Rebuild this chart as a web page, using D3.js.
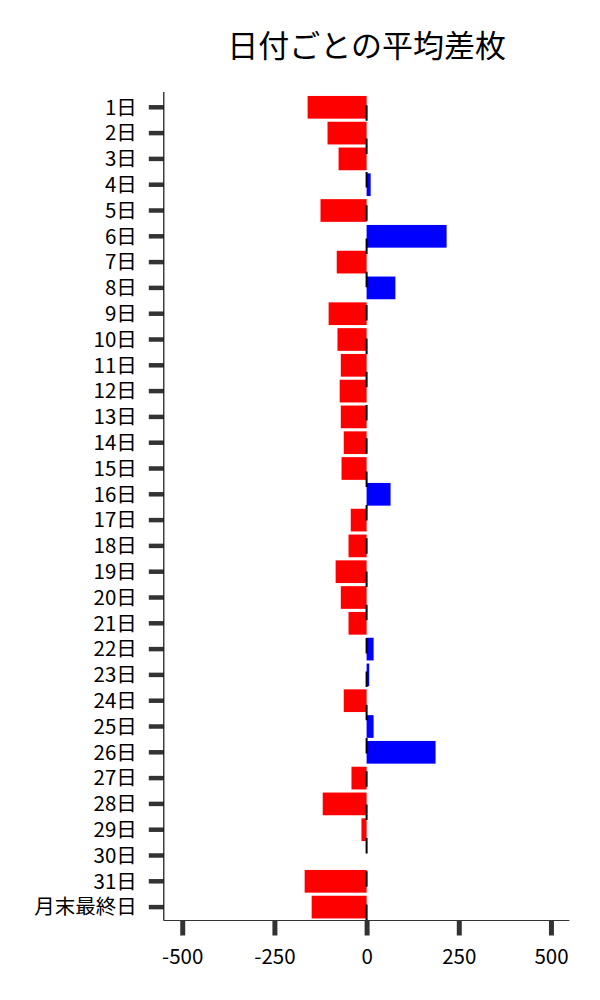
<!DOCTYPE html>
<html><head><meta charset="utf-8">
<script src="https://cdn.jsdelivr.net/npm/d3@7"></script>
<style>body{margin:0;background:#fff}svg{display:block}</style>
</head><body>
<svg id="c" width="600" height="1000"></svg>
<script>
const categories = ["1日","2日","3日","4日","5日","6日","7日","8日","9日","10日","11日","12日","13日","14日","15日","16日","17日","18日","19日","20日","21日","22日","23日","24日","25日","26日","27日","28日","29日","30日","31日","月末最終日"];
const values = [-160,-106,-76,11,-125,217,-81,78,-103,-79,-70,-73,-70,-62,-68,65,-43,-49,-84,-70,-49,19,7,-62,19,187,-41,-119,-14,0,-168,-149];
const xTicks = [-500,-250,0,250,500];
const title = "日付ごとの平均差枚";

const font = "'Noto Sans CJK JP','Noto Sans',sans-serif";
const svg = d3.select("#c");
const x = d3.scaleLinear().domain([-550,550]).range([163.8,569.4]);
const y = d3.scaleBand().domain(categories).range([94.4,920]).paddingInner(0.12).paddingOuter(0.06);

// bars
svg.append("g").selectAll("rect").data(values).join("rect")
  .attr("x",(d)=>x(Math.min(0,d)))
  .attr("width",(d)=>Math.abs(x(d)-x(0)))
  .attr("y",(d,i)=>y(categories[i]))
  .attr("height",y.bandwidth())
  .attr("fill",(d)=>d>=0?"#0000ff":"#ff0000");

// dashed zero line
svg.append("line").attr("x1",x(0)).attr("x2",x(0)).attr("y1",920).attr("y2",92)
  .attr("stroke","#000").attr("stroke-width",2).attr("stroke-dasharray","15.5 17.8");

// y axis
const yAxis = svg.append("g").attr("transform",`translate(${x.range()[0]},0)`)
  .call(d3.axisLeft(y).tickSize(15).tickPadding(12));
yAxis.select(".domain").remove();
yAxis.selectAll(".tick line").attr("stroke","#333").attr("stroke-width",4.5);
yAxis.selectAll(".tick text").attr("font-family",font).attr("font-size",20.5).attr("fill","#000").attr("dy","0.36em");
svg.append("line").attr("x1",x.range()[0]).attr("x2",x.range()[0]).attr("y1",92).attr("y2",920.5)
  .attr("stroke","#111").attr("stroke-width",1.2);

// x axis
const xAxis = svg.append("g").attr("transform","translate(0,920.5)")
  .call(d3.axisBottom(x).tickValues(xTicks).tickSize(15).tickPadding(14).tickFormat((d)=>String(d)));
xAxis.select(".domain").remove();
xAxis.selectAll(".tick line").attr("stroke","#333").attr("stroke-width",5);
xAxis.selectAll(".tick text").attr("font-family",font).attr("font-size",20.5).attr("fill","#000");
svg.append("line").attr("x1",x.range()[0]).attr("x2",x.range()[1]).attr("y1",920.5).attr("y2",920.5)
  .attr("stroke","#333").attr("stroke-width",1.2);

// title
svg.append("text").attr("x",(x.range()[0]+x.range()[1])/2).attr("y",57)
  .attr("text-anchor","middle").attr("font-family",font).attr("font-size",31).attr("fill","#000")
  .text(title);
</script>
</body></html>
